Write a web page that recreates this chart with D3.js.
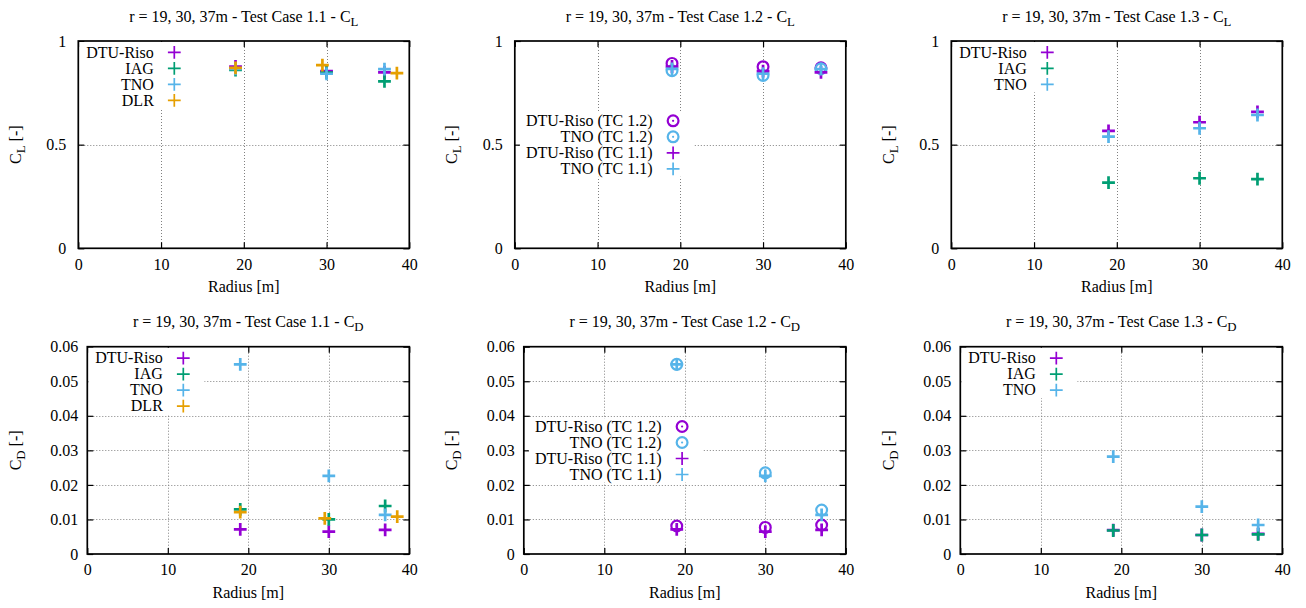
<!DOCTYPE html>
<html>
<head>
<meta charset="utf-8">
<script src="https://cdn.jsdelivr.net/npm/d3@7"></script>
<style>
  body { margin: 0; background: #fff; }
  svg { display: block; }
  svg text { font-family: "Liberation Serif", "Times New Roman", Times, serif !important; fill: #000; }
</style>
</head>
<body>
<svg id="chart" width="1306" height="608"></svg>
<script>
// ---- data -------------------------------------------------------------
const radii = [19, 30, 37];
const radiiDLR = [19, 29.5, 38.5];

// Test Case 1.1
const tc11CL_DTU = [0.877, 0.855, 0.849];
const tc11CL_IAG = [0.860, 0.848, 0.805];
const tc11CL_TNO = [0.866, 0.842, 0.864];
const tc11CL_DLR = [0.870, 0.884, 0.845];
const tc11CD_DTU = [0.0071, 0.0065, 0.0070];
const tc11CD_IAG = [0.0129, 0.0100, 0.0139];
const tc11CD_TNO = [0.0549, 0.0226, 0.0113];
const tc11CD_DLR = [0.0121, 0.0103, 0.0108];

// Test Case 1.2
const tc12CL_DTU = [0.892, 0.876, 0.871];
const tc12CL_TNO = [0.857, 0.834, 0.866];
const tc12CD_DTU = [0.0081, 0.0077, 0.0084];
const tc12CD_TNO = [0.0549, 0.0235, 0.0127];

// Test Case 1.3
const tc13CL_DTU = [0.566, 0.608, 0.658];
const tc13CL_IAG = [0.317, 0.338, 0.334];
const tc13CL_TNO = [0.539, 0.579, 0.643];
const tc13CD_DTU = [0.0069, 0.0055, 0.0058];
const tc13CD_IAG = [0.0068, 0.0055, 0.0057];
const tc13CD_TNO = [0.0282, 0.0137, 0.0084];

// axis ticks
const xTicks = [0, 10, 20, 30, 40];
const xTickLabels = ["0", "10", "20", "30", "40"];
const clTicks = [0, 0.5, 1];
const clTickLabels = ["0", "0.5", "1"];
const cdTicks = [0, 0.01, 0.02, 0.03, 0.04, 0.05, 0.06];
const cdTickLabels = ["0", "0.01", "0.02", "0.03", "0.04", "0.05", "0.06"];

// ---- styling / layout -------------------------------------------------
const C = { purple: "#9400d3", green: "#009e73", blue: "#56b4e9", orange: "#e69f00" };
const FONT = '"Liberation Serif", "Times New Roman", Times, serif';
const colX = [0, 436.5, 873];
const rowTop = [41, 346.7];
const plotH = 207.3;
const plotRightRel = 409.3;
const fontSize = 16;

const coefStyle = {
  L: { left: 78.3, ticks: clTicks, labels: clTickLabels, domain: [0, 1], tickPad: 12 },
  D: { left: 87.3, ticks: cdTicks, labels: cdTickLabels, domain: [0, 0.06], tickPad: 9 }
};

const S = (name, x, y, color, sym) => ({ name, x, y, color, sym });

const panels = [
  { col: 0, row: 0, tc: "1.1", coef: "L", key: "corner", series: [
    S("DTU-Riso", radii, tc11CL_DTU, C.purple, "plus"),
    S("IAG", radii, tc11CL_IAG, C.green, "plus"),
    S("TNO", radii, tc11CL_TNO, C.blue, "plus"),
    S("DLR", radiiDLR, tc11CL_DLR, C.orange, "plus")] },
  { col: 1, row: 0, tc: "1.2", coef: "L", key: "middle", series: [
    S("DTU-Riso (TC 1.2)", radii, tc12CL_DTU, C.purple, "circle"),
    S("TNO (TC 1.2)", radii, tc12CL_TNO, C.blue, "circle"),
    S("DTU-Riso (TC 1.1)", radii, tc11CL_DTU, C.purple, "plus"),
    S("TNO (TC 1.1)", radii, tc11CL_TNO, C.blue, "plus")] },
  { col: 2, row: 0, tc: "1.3", coef: "L", key: "corner", series: [
    S("DTU-Riso", radii, tc13CL_DTU, C.purple, "plus"),
    S("IAG", radii, tc13CL_IAG, C.green, "plus"),
    S("TNO", radii, tc13CL_TNO, C.blue, "plus")] },
  { col: 0, row: 1, tc: "1.1", coef: "D", key: "corner", series: [
    S("DTU-Riso", radii, tc11CD_DTU, C.purple, "plus"),
    S("IAG", radii, tc11CD_IAG, C.green, "plus"),
    S("TNO", radii, tc11CD_TNO, C.blue, "plus"),
    S("DLR", radiiDLR, tc11CD_DLR, C.orange, "plus")] },
  { col: 1, row: 1, tc: "1.2", coef: "D", key: "middle", series: [
    S("DTU-Riso (TC 1.2)", radii, tc12CD_DTU, C.purple, "circle"),
    S("TNO (TC 1.2)", radii, tc12CD_TNO, C.blue, "circle"),
    S("DTU-Riso (TC 1.1)", radii, tc11CD_DTU, C.purple, "plus"),
    S("TNO (TC 1.1)", radii, tc11CD_TNO, C.blue, "plus")] },
  { col: 2, row: 1, tc: "1.3", coef: "D", key: "corner", series: [
    S("DTU-Riso", radii, tc13CD_DTU, C.purple, "plus"),
    S("IAG", radii, tc13CD_IAG, C.green, "plus"),
    S("TNO", radii, tc13CD_TNO, C.blue, "plus")] }
];

// ---- drawing ----------------------------------------------------------
const svg = d3.select("#chart").attr("font-family", FONT);

function plusPath(x, y, h) { return `M${x - h},${y}H${x + h}M${x},${y - h}V${y + h}`; }

function drawSymbol(g, sym, color, x, y, sw) {
  if (sym === "plus") {
    g.append("path").attr("d", plusPath(x, y, 6.4))
      .attr("stroke", color).attr("stroke-width", sw).attr("fill", "none");
  } else {
    g.append("circle").attr("cx", x).attr("cy", y).attr("r", 5.4)
      .attr("stroke", color).attr("stroke-width", 2.2).attr("fill", "none");
    g.append("circle").attr("cx", x).attr("cy", y).attr("r", 1.1).attr("fill", color);
  }
}

function addText(g) {
  return g.append("text").attr("font-family", FONT).attr("font-size", fontSize).attr("fill", "#000");
}

// text with a subscript letter, optionally followed by more text
function withSub(sel, pre, sub, post) {
  sel.append("tspan").text(pre);
  sel.append("tspan").attr("font-size", fontSize * 0.8).attr("dy", 4).text(sub);
  if (post) sel.append("tspan").attr("dy", -4).text(post);
}

panels.forEach(p => {
  const st = coefStyle[p.coef];
  const x0 = colX[p.col] + st.left;
  const x1 = colX[p.col] + plotRightRel;
  const y0 = rowTop[p.row];
  const y1 = y0 + plotH;

  const x = d3.scaleLinear().domain([0, 40]).range([x0, x1]);
  const y = d3.scaleLinear().domain(st.domain).range([y1, y0]);

  const g = svg.append("g");

  // grid
  const grid = g.append("g").attr("stroke", "#808080").attr("stroke-width", 1)
    .attr("stroke-dasharray", "1,2");
  grid.selectAll("line.v").data(xTicks.slice(1, -1)).join("line")
    .attr("x1", d => Math.round(x(d)) + 0.5).attr("x2", d => Math.round(x(d)) + 0.5)
    .attr("y1", y0).attr("y2", y1);
  grid.selectAll("line.h").data(st.ticks.slice(1, -1)).join("line")
    .attr("y1", d => Math.round(y(d)) + 0.5).attr("y2", d => Math.round(y(d)) + 0.5)
    .attr("x1", x0).attr("x2", x1);

  // axes with inward ticks on all four sides
  const styleAxis = a => {
    a.attr("font-family", FONT).attr("font-size", fontSize);
    a.select(".domain").remove();
    a.selectAll(".tick line").attr("stroke", "#000").attr("stroke-width", 1.2);
    a.selectAll("text").attr("fill", "#000");
  };
  g.append("g").attr("transform", `translate(0,${y1})`)
    .call(d3.axisBottom(x).tickValues(xTicks).tickSize(-6).tickPadding(10)
      .tickFormat((d, i) => xTickLabels[i]))
    .call(styleAxis);
  g.append("g").attr("transform", `translate(0,${y0})`)
    .call(d3.axisTop(x).tickValues(xTicks).tickSize(-6).tickFormat(""))
    .call(styleAxis);
  g.append("g").attr("transform", `translate(${x0},0)`)
    .call(d3.axisLeft(y).tickValues(st.ticks).tickSize(-6).tickPadding(st.tickPad)
      .tickFormat((d, i) => st.labels[i]))
    .call(styleAxis);
  g.append("g").attr("transform", `translate(${x1},0)`)
    .call(d3.axisRight(y).tickValues(st.ticks).tickSize(-6).tickFormat(""))
    .call(styleAxis);

  // data points
  const marks = g.append("g");
  p.series.forEach(s => {
    s.x.forEach((r, i) => drawSymbol(marks, s.sym, s.color, x(r), y(s.y[i]), 2.7));
  });

  // key (opaque box)
  const keyG = g.append("g");
  const markerX = p.key === "corner" ? x0 + 96 : x0 + 158.3;
  const firstY = y0 + (p.key === "corner" ? 11.4 : 79.8);
  const step = 16;
  const bg = keyG.append("rect").attr("fill", "#fff");
  let minStart = Infinity;
  p.series.forEach((s, i) => {
    const ty = firstY + i * step;
    const t = addText(keyG).attr("x", markerX - 20.5).attr("y", ty).attr("dy", "0.33em")
      .attr("text-anchor", "end").text(s.name);
    minStart = Math.min(minStart, markerX - 20.5 - t.node().getComputedTextLength());
    drawSymbol(keyG, s.sym, s.color, markerX, ty, 1.7);
  });
  const boxTop = p.key === "corner" ? y0 + 1 : firstY - 8;
  const boxLeft = p.key === "corner" ? x0 + 1 : minStart - 6;
  bg.attr("x", boxLeft).attr("y", boxTop)
    .attr("width", markerX + 21 - boxLeft)
    .attr("height", firstY + (p.series.length - 1) * step + 8 - boxTop);

  // border
  g.append("rect").attr("x", x0).attr("y", y0).attr("width", x1 - x0).attr("height", y1 - y0)
    .attr("fill", "none").attr("stroke", "#000").attr("stroke-width", 1.7);

  // title
  const title = addText(g).attr("x", (x0 + x1) / 2).attr("y", y0 - 19.5)
    .attr("text-anchor", "middle");
  withSub(title, `r = 19, 30, 37m - Test Case ${p.tc} - C`, p.coef);

  // axis labels
  addText(g).attr("x", (x0 + x1) / 2).attr("y", y1 + 44)
    .attr("text-anchor", "middle").text("Radius [m]");
  const yl = addText(g)
    .attr("transform", `translate(${colX[p.col] + 20.5},${(y0 + y1) / 2}) rotate(-90)`)
    .attr("text-anchor", "middle");
  withSub(yl, "C", p.coef, " [-]");
});
</script>
</body>
</html>
